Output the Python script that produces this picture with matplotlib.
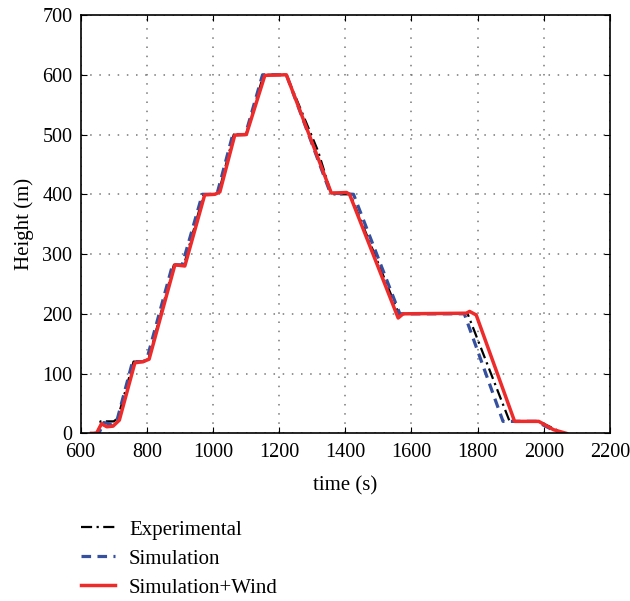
import matplotlib
matplotlib.use("Agg")
import matplotlib.pyplot as plt

# Experimental
exp_t = [638, 652, 660, 700, 712, 760, 788, 805, 882, 912, 972, 1006, 1018, 1063, 1100,
         1153, 1222, 1318, 1358, 1415, 1562, 1770, 1897, 1985, 2060]
exp_h = [0, 0, 20, 20, 25, 120, 120, 124, 282, 281, 400, 400, 404, 500, 500,
         600, 600, 472, 400, 400, 200, 200, 20, 20, 0]

# Simulation
sim_t = [640, 655, 670, 695, 710, 757, 790, 800, 878, 907, 968, 1005, 1014, 1060, 1098,
         1150, 1222, 1355, 1425, 1565, 1760, 1877, 1977, 2048]
sim_h = [0, 0, 18, 15, 22, 120, 120, 124, 282, 282, 400, 400, 404, 500, 500,
         600, 600, 402, 400, 200, 200, 20, 20, 0]

# Simulation+Wind
wind_t = [633, 648, 663, 679, 698, 717, 764, 789, 807, 885, 915, 975, 1006, 1021, 1066,
          1101, 1157, 1222, 1358, 1404, 1413, 1560, 1575, 1766, 1776, 1796, 1912, 1985,
          2030, 2068]
wind_h = [0, 0, 16, 11, 12, 22, 118, 120, 124, 282, 280, 399, 400, 404, 499,
          500, 599, 600, 402, 403, 400, 193, 200, 201, 204, 198, 20, 20,
          6, 0]

plt.rcParams['font.family'] = ['Liberation Serif', 'DejaVu Serif']
plt.rcParams['font.size'] = 15

fig = plt.figure(figsize=(6.3, 6.01), dpi=100)
ax = fig.add_axes([0.128, 0.279, 0.840, 0.696])

ax.plot(exp_t, exp_h, color='black', lw=1.6, dashes=(5, 2, 1, 2), label='Experimental')
ax.plot(sim_t, sim_h, color='#34509f', lw=2.3, dashes=(3, 2), label='Simulation')
ax.plot(wind_t, wind_h, color='#ee2b2b', lw=2.5, label='Simulation+Wind')

ax.set_xlim(600, 2200)
ax.set_ylim(0, 700)
ax.set_xticks(range(600, 2201, 200))
ax.set_yticks(range(0, 701, 100))
ax.grid(True, color='#777777', linestyle=(0, (1, 5)), lw=1.1)
ax.tick_params(direction='in', length=4, top=True, right=True, labelsize=14.5)
ax.tick_params(axis='x', pad=7)
ax.tick_params(axis='y', pad=6)
for s in ax.spines.values():
    s.set_linewidth(1.2)

ax.set_xlabel('time (s)', fontsize=15, labelpad=10)
ax.set_ylabel('Height (m)', fontsize=15, labelpad=6)

fig.legend(loc='upper left', bbox_to_anchor=(0.112, 0.152), frameon=False,
           fontsize=15, handlelength=1.65, handletextpad=0.65, labelspacing=0.45,
           borderpad=0)

fig.savefig('out.png', dpi=100)
